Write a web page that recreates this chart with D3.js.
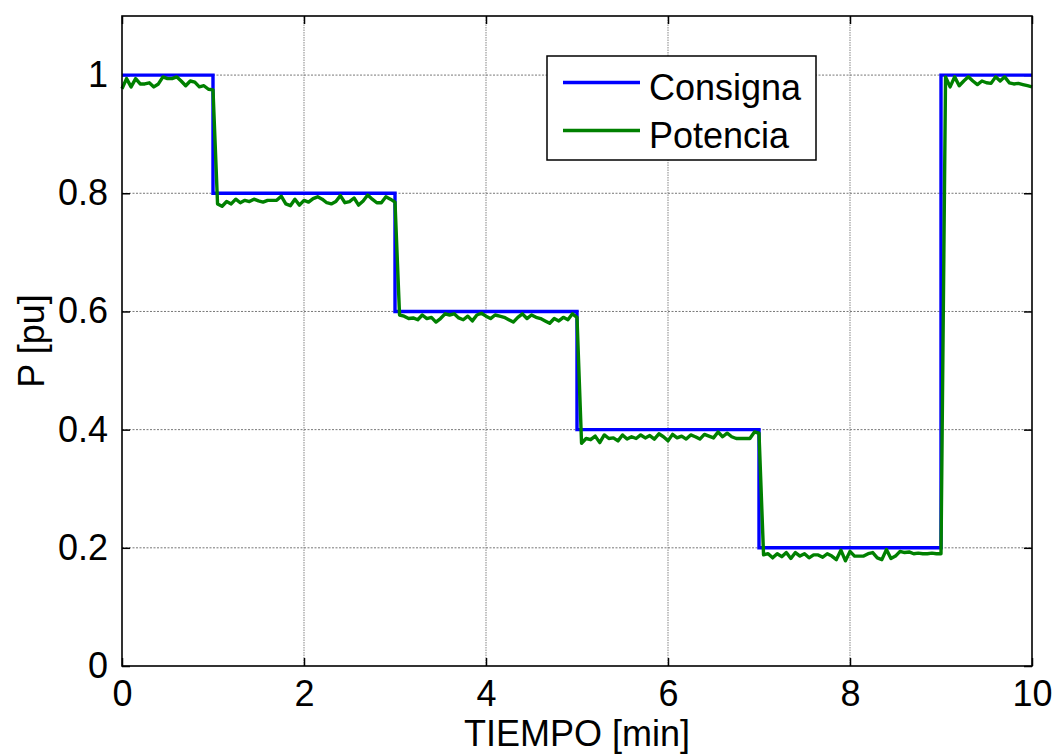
<!DOCTYPE html>
<html>
<head>
<meta charset="utf-8">
<script src="https://cdn.jsdelivr.net/npm/d3@7/dist/d3.min.js"></script>
<style>
  html, body { margin: 0; padding: 0; background: #fff; }
  svg { display: block; }
  text { font-family: "Liberation Sans", Arial, sans-serif; fill: #000; }
</style>
</head>
<body>
<svg id="chart" width="1054" height="756"></svg>
<script>
// ---------- DATA ----------
const xTicks = [0, 2, 4, 6, 8, 10];
const yTicks = [0, 0.2, 0.4, 0.6, 0.8, 1];
const xTickLabels = ["0", "2", "4", "6", "8", "10"];
const yTickLabels = ["0", "0.2", "0.4", "0.6", "0.8", "1"];
const seriesNames = ["Consigna", "Potencia"];

// Consigna: setpoint breakpoints (time [min], P [pu]) drawn as steps
const consignaTime  = [0, 1, 3, 5, 7, 9, 10];
const consignaValue = [1, 0.8, 0.6, 0.4, 0.2, 1, 1];

// Potencia: measured power sampled every 0.05 min from t = 0 to t = 10
const sampleStep = 0.05;
const potenciaSeg1 = [0.977, 0.994, 0.980, 0.994, 0.985, 0.985, 0.987, 0.980, 0.985, 0.997,
                      0.994, 0.994, 0.997, 0.990, 0.982, 0.990, 0.988, 0.980, 0.982, 0.976, 0.975];
const potenciaSeg2 = [0.782, 0.778, 0.786, 0.782, 0.790, 0.784, 0.788, 0.786, 0.790, 0.787,
                      0.785, 0.788, 0.788, 0.788, 0.795, 0.782, 0.779, 0.790, 0.780, 0.788,
                      0.785, 0.791, 0.794, 0.790, 0.784, 0.782, 0.786, 0.796, 0.784, 0.786,
                      0.792, 0.780, 0.787, 0.797, 0.790, 0.784, 0.784, 0.794, 0.790, 0.785];
const potenciaSeg3 = [0.594, 0.592, 0.588, 0.589, 0.586, 0.594, 0.588, 0.590, 0.582, 0.588,
                      0.596, 0.594, 0.596, 0.589, 0.586, 0.592, 0.584, 0.594, 0.597, 0.592,
                      0.588, 0.594, 0.592, 0.590, 0.586, 0.582, 0.590, 0.596, 0.588, 0.594,
                      0.590, 0.588, 0.584, 0.580, 0.588, 0.584, 0.590, 0.586, 0.596, 0.590];
const potenciaSeg4 = [0.377, 0.385, 0.383, 0.389, 0.378, 0.391, 0.385, 0.386, 0.381, 0.391,
                      0.384, 0.388, 0.385, 0.391, 0.386, 0.390, 0.384, 0.393, 0.388, 0.381,
                      0.392, 0.386, 0.389, 0.384, 0.391, 0.388, 0.384, 0.392, 0.389, 0.386,
                      0.396, 0.388, 0.394, 0.388, 0.385, 0.385, 0.385, 0.385, 0.396, 0.394];
const potenciaSeg5 = [0.188, 0.190, 0.183, 0.190, 0.185, 0.192, 0.182, 0.192, 0.186, 0.190,
                      0.183, 0.188, 0.188, 0.184, 0.190, 0.186, 0.180, 0.196, 0.178, 0.194,
                      0.186, 0.186, 0.186, 0.190, 0.192, 0.183, 0.180, 0.197, 0.182, 0.186,
                      0.194, 0.192, 0.193, 0.190, 0.191, 0.190, 0.190, 0.191, 0.190, 0.190];
const potenciaSeg6 = [0.997, 0.980, 0.997, 0.982, 0.990, 0.997, 0.990, 0.984, 0.990, 0.987,
                      0.986, 0.997, 0.990, 0.997, 0.987, 0.985, 0.986, 0.984, 0.982, 0.980];
const potenciaValue = [].concat(potenciaSeg1, potenciaSeg2, potenciaSeg3,
                                potenciaSeg4, potenciaSeg5, potenciaSeg6);

// ---------- LAYOUT ----------
const svg = d3.select("#chart");
const margin = { left: 122, top: 16, right: 1032, bottom: 666 };
const x = d3.scaleLinear().domain([0, 10]).range([margin.left, margin.right]);
const y = d3.scaleLinear().domain([0, 1.1]).range([margin.bottom, margin.top]);

const colors = { Consigna: "#0000ff", Potencia: "#008000" };
const tickFont = 36;

// grid
const grid = svg.append("g");
grid.selectAll("line.gx").data(xTicks.slice(1, -1)).enter().append("line")
  .attr("x1", d => x(d)).attr("x2", d => x(d))
  .attr("y1", y(0)).attr("y2", y(1.1))
  .attr("stroke", "#9a9a9a").attr("stroke-width", 1.2).attr("stroke-dasharray", "1.5,1");
grid.selectAll("line.gy").data(yTicks.slice(1)).enter().append("line")
  .attr("y1", d => y(d)).attr("y2", d => y(d))
  .attr("x1", x(0)).attr("x2", x(10))
  .attr("stroke", "#777").attr("stroke-width", 1).attr("stroke-dasharray", "2,1.5");

// axes with inward ticks on all sides
const tickLen = 8;
const axB = d3.axisBottom(x).tickValues(xTicks).tickFormat((d, i) => xTickLabels[i])
  .tickSizeInner(-tickLen).tickSizeOuter(0).tickPadding(14);
const axL = d3.axisLeft(y).tickValues(yTicks).tickFormat((d, i) => yTickLabels[i])
  .tickSizeInner(-tickLen).tickSizeOuter(0).tickPadding(14);
const axT = d3.axisTop(x).tickValues(xTicks).tickFormat("").tickSizeInner(-tickLen).tickSizeOuter(0);
const axR = d3.axisRight(y).tickValues(yTicks).tickFormat("").tickSizeInner(-tickLen).tickSizeOuter(0);

function styleAxis(g) {
  g.select(".domain").remove();
  g.selectAll(".tick line").attr("stroke", "#000").attr("stroke-width", 1.5);
  g.selectAll(".tick text").style("font-size", tickFont + "px")
    .style("font-family", "'Liberation Sans', Arial, sans-serif").attr("fill", "#000");
}
svg.append("g").attr("transform", `translate(0,${y(0)})`).call(axB).call(styleAxis);
svg.append("g").attr("transform", `translate(${x(0)},0)`).call(axL).call(styleAxis);
svg.append("g").attr("transform", `translate(0,${y(1.1)})`).call(axT).call(styleAxis);
svg.append("g").attr("transform", `translate(${x(10)},0)`).call(axR).call(styleAxis);

// lines
const consignaData = consignaTime.map((t, i) => ({ t, v: consignaValue[i] }));
const potenciaData = potenciaValue.map((v, i) => ({ t: i * sampleStep, v }));

svg.append("path").datum(consignaData)
  .attr("d", d3.line().x(d => x(d.t)).y(d => y(d.v)).curve(d3.curveStepAfter))
  .attr("fill", "none").attr("stroke", colors.Consigna).attr("stroke-width", 3.4)
  .attr("stroke-linejoin", "miter");
svg.append("path").datum(potenciaData)
  .attr("d", d3.line().x(d => x(d.t)).y(d => y(d.v)))
  .attr("fill", "none").attr("stroke", colors.Potencia).attr("stroke-width", 3.4)
  .attr("stroke-linejoin", "round");

// box
svg.append("rect")
  .attr("x", x(0)).attr("y", y(1.1))
  .attr("width", x(10) - x(0)).attr("height", y(0) - y(1.1))
  .attr("fill", "none").attr("stroke", "#000").attr("stroke-width", 1.6);

// axis titles
svg.append("text").attr("x", (x(0) + x(10)) / 2).attr("y", 746)
  .attr("text-anchor", "middle").style("font-size", "36px").text("TIEMPO [min]");
svg.append("text")
  .attr("transform", `translate(44,${(y(0) + y(1.1)) / 2}) rotate(-90)`)
  .attr("text-anchor", "middle").style("font-size", "36px").text("P [pu]");

// legend
const lg = svg.append("g");
lg.append("rect").attr("x", 547).attr("y", 56).attr("width", 269).attr("height", 104)
  .attr("fill", "#fff").attr("stroke", "#000").attr("stroke-width", 1.5);
const rows = [82.5, 130.5];
seriesNames.forEach((name, i) => {
  lg.append("line").attr("x1", 563).attr("x2", 640).attr("y1", rows[i]).attr("y2", rows[i])
    .attr("stroke", colors[name]).attr("stroke-width", 3.4);
  lg.append("text").attr("x", 649).attr("y", rows[i] + 17)
    .style("font-size", "36px").text(name);
});
</script>
</body>
</html>
